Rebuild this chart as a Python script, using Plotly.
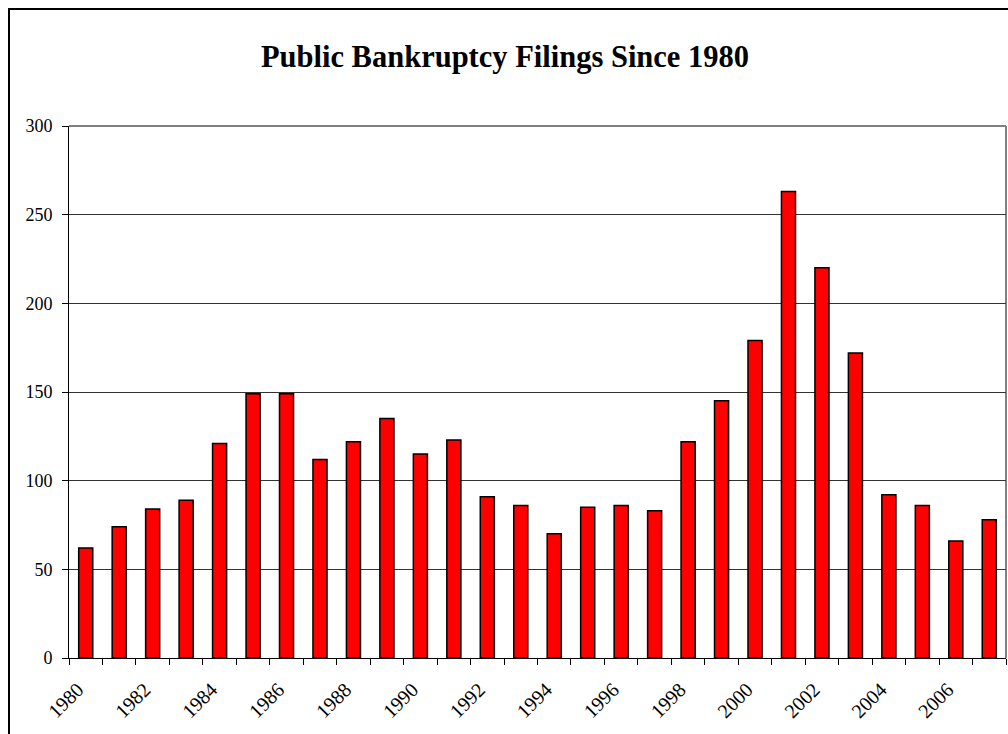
import plotly.graph_objects as go

years = [str(y) for y in range(1980, 2008)]
filings = [62, 74, 84, 89, 121, 149, 149, 112, 122, 135, 115, 123, 91, 86, 70,
           85, 86, 83, 122, 145, 179, 263, 220, 172, 92, 86, 66, 78]
tick_text = [y if int(y) % 2 == 0 else "" for y in years]
y_ticks = [0, 50, 100, 150, 200, 250, 300]
title_text = "Public Bankruptcy Filings Since 1980"

W, H = 1008, 734
L, R, T, B = 69, 2, 126, 76
pw, ph = W - L - R, H - T - B
FONT = "Liberation Serif, Times New Roman, serif"

fig = go.Figure()
fig.add_trace(go.Bar(
    x=years, y=filings,
    marker=dict(color="#FF0000", line=dict(color="#000000", width=1.5)),
    hoverinfo="x+y",
))

def px_x(p):
    return (p - L) / pw

def px_y(p):
    return (H - B - p) / ph

fig.update_layout(
    width=W, height=H,
    margin=dict(l=L, r=R, t=T, b=B, pad=0),
    paper_bgcolor="white", plot_bgcolor="white",
    bargap=0.58,
    showlegend=False,
    font=dict(family=FONT, size=17, color="black"),
    title=dict(text="<b>" + title_text + "</b>", x=px_x(505), xanchor="center",
               y=1 - 56 / H, yanchor="middle", xref="paper",
               font=dict(family=FONT, size=30.5, color="black")),
    xaxis=dict(
        type="category", tickmode="array", tickvals=years, ticktext=tick_text,
        tickangle=-45, tickson="boundaries", ticks="outside", ticklen=6,
        tickcolor="black", tickwidth=1, showgrid=False, showline=True,
        linecolor="black", linewidth=1, range=[-0.5, len(years) - 0.5],
        tickfont=dict(family=FONT, size=20), ticklabelstandoff=11,
        ticklabelshift=-8,
    ),
    yaxis=dict(
        range=[0, 300], tickmode="array", tickvals=y_ticks,
        ticks="outside", ticklen=6, tickcolor="black", tickwidth=1,
        showgrid=True, gridcolor="#333333", gridwidth=1,
        showline=True, linecolor="black", linewidth=1, zeroline=False,
        tickfont=dict(family=FONT, size=18), ticklabelstandoff=6,
    ),
    shapes=[
        dict(type="line", xref="paper", yref="paper", x0=0, x1=1, y0=1, y1=1,
             line=dict(color="#808080", width=2), layer="below"),
        dict(type="line", xref="paper", yref="paper", x0=1, x1=1, y0=0, y1=1,
             line=dict(color="#808080", width=2), layer="below"),
        dict(type="rect", xref="paper", yref="paper",
             x0=px_x(9), x1=px_x(1020), y0=px_y(745), y1=px_y(9),
             line=dict(color="black", width=2), fillcolor="rgba(0,0,0,0)"),
    ],
)

fig.write_html("out.html")
